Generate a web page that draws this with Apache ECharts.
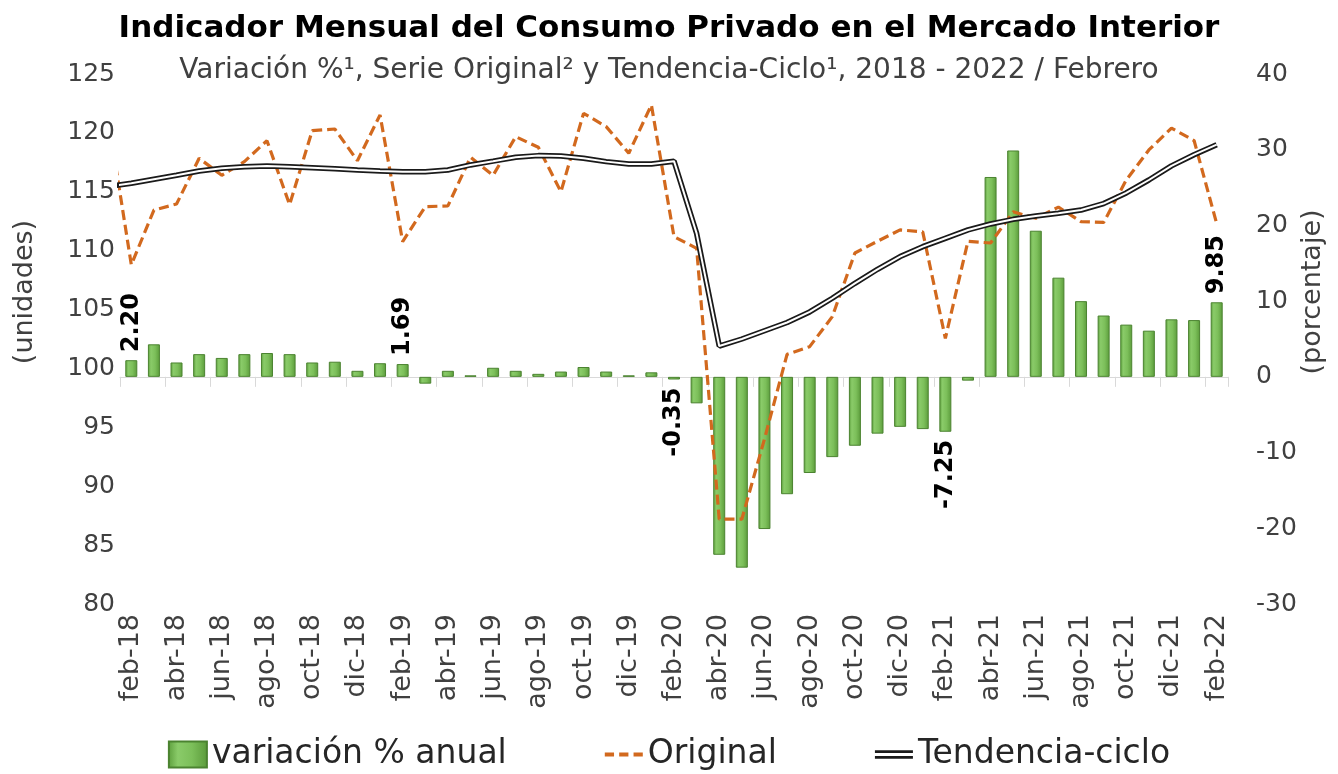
<!DOCTYPE html>
<html><head><meta charset="utf-8">
<script src="https://cdn.jsdelivr.net/npm/echarts@6/dist/echarts.min.js"></script>
<style>html,body{margin:0;padding:0;background:#fff}#c{width:1338px;height:774px}</style>
</head><body><div id="c"></div>
<script>
// Categories for the bars (feb-18 .. feb-22)
const categories = ['feb-18','mar-18','abr-18','may-18','jun-18','jul-18','ago-18','sep-18','oct-18','nov-18','dic-18',
  'ene-19','feb-19','mar-19','abr-19','may-19','jun-19','jul-19','ago-19','sep-19','oct-19','nov-19','dic-19',
  'ene-20','feb-20','mar-20','abr-20','may-20','jun-20','jul-20','ago-20','sep-20','oct-20','nov-20','dic-20',
  'ene-21','feb-21','mar-21','abr-21','may-21','jun-21','jul-21','ago-21','sep-21','oct-21','nov-21','dic-21',
  'ene-22','feb-22'];
// variación % anual (right axis)
const variacion = [2.20,4.3,1.9,3.0,2.5,3.0,3.15,3.0,1.9,2.0,0.8,
  1.8,1.69,-0.9,0.8,0.2,1.2,0.8,0.4,0.7,1.3,0.7,0.2,
  0.6,-0.35,-3.5,-23.5,-25.2,-20.1,-15.5,-12.7,-10.6,-9.1,-7.5,-6.6,
  -6.9,-7.25,-0.5,26.4,29.9,19.3,13.1,10.0,8.1,6.9,6.1,7.6,
  7.5,9.85];
// Lines start one month earlier (ene-18), partly clipped at the plot edge
const lineMonths = ['ene-18'].concat(categories);
const original = [121.0,108.8,113.45,113.96,117.84,116.4,117.56,119.34,113.9,120.19,120.33,117.64,
  121.52,110.77,113.74,113.8,117.93,116.4,119.68,118.78,115.0,121.66,120.53,118.27,
  122.37,111.19,110.2,87.2,87.2,94.0,101.2,101.85,104.4,109.8,110.8,111.76,
  111.6,102.56,110.8,110.65,113.3,112.75,113.7,112.46,112.4,116.0,118.55,120.4,
  119.35,112.3];
const tendencia = [115.45,115.72,116.06,116.4,116.77,117.0,117.13,117.19,117.13,117.05,116.96,116.85,
  116.77,116.7,116.7,116.85,117.28,117.6,117.93,118.07,118.04,117.84,117.56,117.36,
  117.36,117.6,111.47,101.9,102.5,103.2,103.9,104.8,105.96,107.23,108.42,109.5,
  110.34,111.05,111.76,112.27,112.66,112.94,113.17,113.45,114.0,114.9,116.0,117.2,
  118.15,119.0];
// Labelled bars (every February)
const labelled = ['feb-18','feb-19','feb-20','feb-21','feb-22'];
// Axis ranges
const leftAxis = {min: 80, max: 125, interval: 5};
const rightAxis = {min: -30, max: 40, interval: 10};

const FONT = 'DejaVu Sans';
const grey = '#404040';

const barGrad = new echarts.graphic.LinearGradient(0,0,1,0,[
  {offset:0,color:'#5c9e3c'},{offset:0.25,color:'#8acb69'},{offset:0.6,color:'#7cbf5a'},{offset:1,color:'#5a9a3a'}]);

const barData = variacion.map((v,i)=>{
  const item = {value: v};
  if (labelled.indexOf(categories[i]) >= 0) {
    item.label = {
      show: true, rotate: 90, position: v >= 0 ? 'top' : 'bottom',
      align: v >= 0 ? 'left' : 'right', verticalAlign: 'middle', distance: 8,
      formatter: v.toFixed(2), fontFamily: FONT, fontWeight: 'bold', fontSize: 24, color: '#000'
    };
  }
  return item;
});

const chart = echarts.init(document.getElementById('c'), null, {renderer:'canvas'});
chart.setOption({
  backgroundColor: '#fff',
  animation: false,
  title: [
    {text: 'Indicador Mensual del Consumo Privado en el Mercado Interior', left: 'center', top: 8,
     textStyle: {fontFamily: FONT, fontWeight: 'bold', fontSize: 31, color: '#000'}},
    {text: 'Variación %¹, Serie Original² y Tendencia-Ciclo¹, 2018 - 2022 / Febrero', left: 'center', top: 52,
     textStyle: {fontFamily: FONT, fontWeight: 'normal', fontSize: 28, color: grey}}
  ],
  grid: {left: 120, right: 110, top: 74, bottom: 170, containLabel: false},
  legend: {
    bottom: -2, left: 'center', itemGap: 98, itemWidth: 38, itemHeight: 26,
    textStyle: {fontFamily: FONT, fontSize: 33, color: '#262626'},
    data: [
      {name: 'variación % anual', icon: 'rect'},
      {name: 'Original', icon: 'path://M0,10L9,10L9,14L0,14Z M14,10L23,10L23,14L14,14Z M28,10L37,10L37,14L28,14Z'},
      {name: 'Tendencia-ciclo', icon: 'path://M0,9L40,9L40,12L0,12Z M0,15L40,15L40,18L0,18Z'}
    ]
  },
  xAxis: [
    {type: 'category', data: categories, boundaryGap: true,
     axisLine: {lineStyle: {color: '#d9d9d9', width: 1}},
     axisTick: {show: true, interval: 1, length: 10, lineStyle: {color: '#d9d9d9'}},
     axisLabel: {interval: 1, rotate: 90, margin: 10, fontFamily: FONT, fontSize: 27, color: grey},
     splitLine: {show: false}},
    {type: 'value', min: -0.5, max: categories.length - 0.5, show: false}
  ],
  yAxis: [
    {type: 'value', min: leftAxis.min, max: leftAxis.max, interval: leftAxis.interval, position: 'left',
     axisLine: {show: false}, axisTick: {show: false}, splitLine: {show: false},
     axisLabel: {margin: 5, fontFamily: FONT, fontSize: 25, color: grey}},
    {type: 'value', min: rightAxis.min, max: rightAxis.max, interval: rightAxis.interval, position: 'right',
     axisLine: {show: false}, axisTick: {show: false}, splitLine: {show: false},
     axisLabel: {margin: 28, fontFamily: FONT, fontSize: 25, color: grey}}
  ],
  graphic: [
    {type: 'text', x: 25, y: 292, rotation: Math.PI/2,
     style: {text: '(unidades)', fontFamily: FONT, fontSize: 27, fill: grey, align: 'center', verticalAlign: 'middle'}},
    {type: 'text', x: 1313, y: 292, rotation: Math.PI/2,
     style: {text: '(porcentaje)', fontFamily: FONT, fontSize: 27, fill: grey, align: 'center', verticalAlign: 'middle'}}
  ],
  series: [
    {name: 'variación % anual', type: 'bar', xAxisIndex: 0, yAxisIndex: 1, data: barData, barWidth: 12,
     itemStyle: {color: barGrad, borderColor: '#4b8330', borderWidth: 1}, z: 2},
    {name: 'Original', type: 'line', xAxisIndex: 1, yAxisIndex: 0, showSymbol: false, symbol: 'none',
     data: original.map((v,k)=>[k-1, v]), clip: true,
     lineStyle: {color: '#d2691e', width: 3.2, type: [10,5]}, itemStyle: {color: '#d2691e'}, z: 3},
    {name: 'Tendencia-ciclo', type: 'line', xAxisIndex: 1, yAxisIndex: 0, showSymbol: false, symbol: 'none',
     data: tendencia.map((v,k)=>[k-1, v]), clip: true,
     lineStyle: {color: '#1a1a1a', width: 5.5}, itemStyle: {color: '#1a1a1a'}, z: 4},
    {name: 'tc-inner', type: 'line', xAxisIndex: 1, yAxisIndex: 0, showSymbol: false, symbol: 'none', silent: true,
     data: tendencia.map((v,k)=>[k-1, v]), clip: true,
     lineStyle: {color: '#ffffff', width: 2}, itemStyle: {color: '#ffffff'}, z: 5}
  ]
});
</script></body></html>
